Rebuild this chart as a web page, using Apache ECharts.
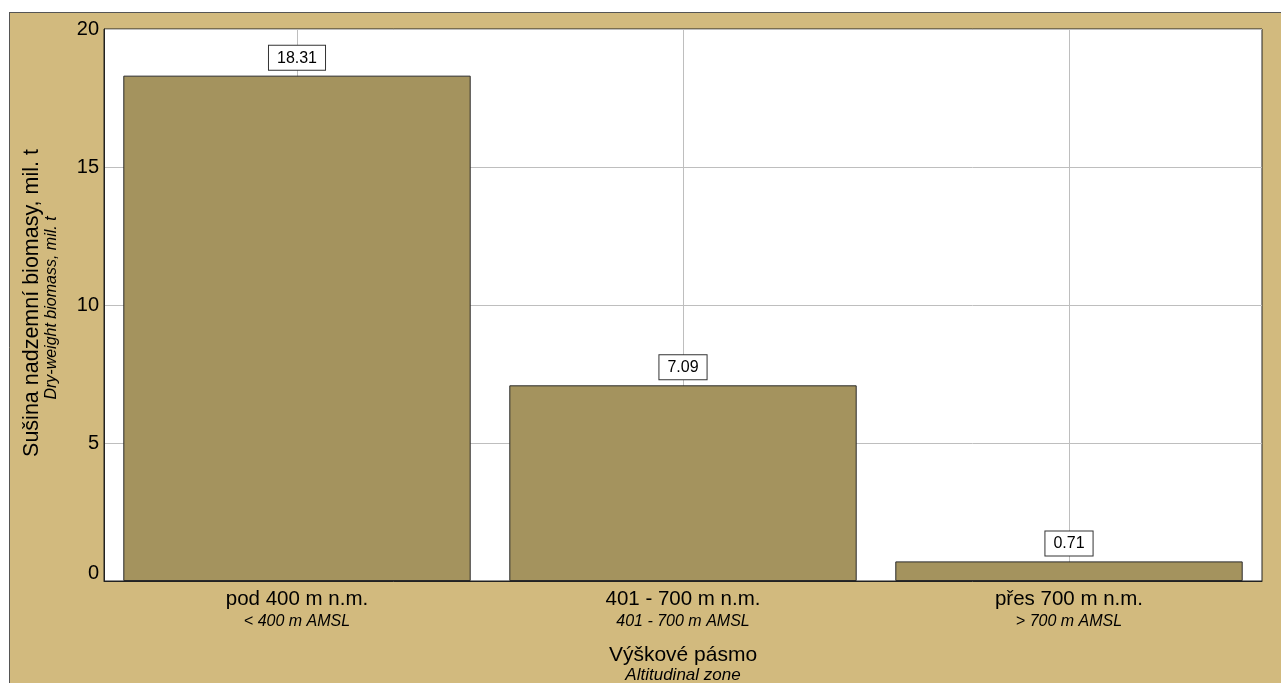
<!DOCTYPE html>
<html><head><meta charset="utf-8">
<script src="https://cdn.jsdelivr.net/npm/echarts@6/dist/echarts.min.js"></script>
<style>html,body{margin:0;padding:0;background:#fff}#c{width:1281px;height:683px}</style>
</head><body><div id="c"></div>
<script>
const categories = ['pod 400 m n.m.', '401 - 700 m n.m.', 'přes 700 m n.m.'];
const categoriesEn = ['< 400 m AMSL', '401 - 700 m AMSL', '> 700 m AMSL'];
const values = [18.31, 7.09, 0.71];
const yTitle = 'Sušina nadzemní biomasy, mil. t';
const yTitleEn = 'Dry-weight biomass, mil. t';
const xTitle = 'Výškové pásmo';
const xTitleEn = 'Altitudinal zone';

const FONT = "'Liberation Sans', Arial, sans-serif";
const TAN = '#D2BA7E';
const chart = echarts.init(document.getElementById('c'), null, {renderer: 'canvas'});
chart.setOption({
  backgroundColor: TAN,
  animation: false,
  textStyle: {fontFamily: FONT},
  grid: {left: 104, right: 19, top: 29, bottom: 102, show: true, backgroundColor: '#fff', borderColor: '#222', borderWidth: 1},
  xAxis: {
    type: 'category',
    data: categories,
    axisLine: {show: true, lineStyle: {color: '#222', width: 1}},
    axisTick: {show: false},
    splitLine: {show: true, alignWithLabel: true, lineStyle: {color: '#BEBEBE', width: 1}},
    axisLabel: {
      interval: 0, margin: 7, color: '#000',
      formatter: (v, i) => `{a|${v}}\n{b|${categoriesEn[i]}}`,
      rich: {
        a: {fontSize: 20.5, lineHeight: 23, fontFamily: FONT, color: '#000'},
        b: {fontSize: 16, lineHeight: 21, fontStyle: 'italic', fontFamily: FONT, color: '#000'}
      }
    }
  },
  yAxis: {
    type: 'value', min: 0, max: 20, interval: 5,
    axisLine: {show: true, lineStyle: {color: '#222', width: 1}},
    axisTick: {show: false},
    splitLine: {show: true, lineStyle: {color: '#BEBEBE', width: 1}},
    axisLabel: {
      margin: 5, color: '#000', fontSize: 20, fontFamily: FONT,
      formatter: v => v === 0 ? '{z|0}' : String(v),
      rich: {z: {fontSize: 20, fontFamily: FONT, color: '#000', padding: [0, 0, 15, 0]}}
    }
  },
  series: [{
    type: 'bar',
    data: values,
    barCategoryGap: '10%',
    itemStyle: {color: '#A4935E', borderColor: '#2a2a2a', borderWidth: 1},
    label: {
      show: true, position: 'top', distance: 6,
      formatter: p => p.value.toFixed(2),
      color: '#000', fontSize: 16, lineHeight: 17, fontFamily: FONT,
      backgroundColor: '#fff', borderColor: '#333', borderWidth: 1,
      padding: [4, 8, 3, 8]
    }
  }],
  graphic: [
    {type: 'rect', shape: {x: 0, y: 0, width: 1281, height: 12}, style: {fill: '#fff'}, silent: true},
    {type: 'rect', shape: {x: 0, y: 0, width: 9, height: 683}, style: {fill: '#fff'}, silent: true},
    {type: 'line', shape: {x1: 9.5, y1: 12, x2: 9.5, y2: 683}, style: {stroke: '#555', lineWidth: 1}, silent: true},
    {type: 'line', shape: {x1: 9, y1: 12.5, x2: 1281, y2: 12.5}, style: {stroke: '#555', lineWidth: 1}, silent: true},
    {type: 'text', x: 683, y: 655, style: {text: xTitle, font: `21px ${FONT}`, fill: '#000', align: 'center', verticalAlign: 'middle'}},
    {type: 'text', x: 683, y: 675, style: {text: xTitleEn, font: `italic 17px ${FONT}`, fill: '#000', align: 'center', verticalAlign: 'middle'}},
    {type: 'text', x: 32, y: 303, rotation: Math.PI / 2, style: {text: yTitle, font: `21.5px ${FONT}`, fill: '#000', align: 'center', verticalAlign: 'middle'}},
    {type: 'text', x: 52, y: 308, rotation: Math.PI / 2, style: {text: yTitleEn, font: `italic 16px ${FONT}`, fill: '#000', align: 'center', verticalAlign: 'middle'}}
  ]
});
</script></body></html>
